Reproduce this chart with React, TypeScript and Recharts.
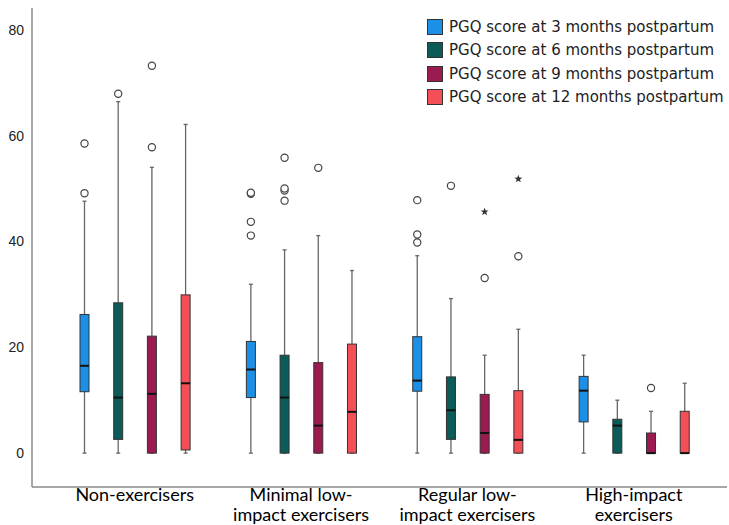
import React from "react";
import { ComposedChart, Bar, XAxis, YAxis } from "recharts";

// ---------- data ----------
const categories = [
  "Non-exercisers",
  "Minimal low-impact exercisers",
  "Regular low-impact exercisers",
  "High-impact exercisers",
];

const seriesNames = [
  "PGQ score at 3 months postpartum",
  "PGQ score at 6 months postpartum",
  "PGQ score at 9 months postpartum",
  "PGQ score at 12 months postpartum",
];

// rows = series (3, 6, 9, 12 months), columns = categories
const lowerWhisker = [
  [0, 0, 0, 0],
  [0, 0, 0, 0],
  [0, 0, 0, 0],
  [0, 0, 0, 0],
];
const q1 = [
  [11.6, 10.5, 11.7, 5.9],
  [2.6, 0, 2.6, 0],
  [0, 0, 0, 0],
  [0.6, 0, 0, 0],
];
const median = [
  [16.5, 15.8, 13.7, 11.8],
  [10.5, 10.5, 8.1, 5.2],
  [11.2, 5.2, 3.8, 0],
  [13.2, 7.8, 2.5, 0],
];
const q3 = [
  [26.2, 21.1, 22.0, 14.5],
  [28.4, 18.5, 14.4, 6.4],
  [22.1, 17.1, 11.1, 3.8],
  [29.9, 20.6, 11.8, 7.9],
];
const upperWhisker = [
  [47.6, 31.9, 37.3, 18.5],
  [66.4, 38.4, 29.2, 10.0],
  [54.0, 41.1, 18.5, 7.9],
  [62.1, 34.5, 23.4, 13.2],
];
const outliers = [
  [[49.1, 58.5], [41.1, 43.7, 49.0, 49.2], [39.8, 41.3, 47.8], []],
  [[67.9], [47.7, 49.6, 50.0, 55.8], [50.5], []],
  [[57.8, 73.2], [53.9], [33.1], [12.3]],
  [[], [], [37.2], []],
];
const extremes = [
  [[], [], [], []],
  [[], [], [], []],
  [[], [], [45.6], []],
  [[], [], [51.8], []],
];

const yTicks = [0, 20, 40, 60, 80];

// ---------- styles ----------
const seriesColors = ["#1C8FE6", "#0B5B58", "#9B1B50", "#F44E57"];
const tickFont = "'Liberation Sans', Arial, sans-serif";
const catFont = "Lato, 'Open Sans', sans-serif";
const legendFont = "'DejaVu Sans', Verdana, sans-serif";

const data = categories.map((c, ci) => {
  const row: any = { category: c };
  seriesNames.forEach((_, si) => {
    row[`s${si}`] = [lowerWhisker[si][ci], upperWhisker[si][ci]];
    row[`st${si}`] = {
      min: lowerWhisker[si][ci],
      q1: q1[si][ci],
      med: median[si][ci],
      q3: q3[si][ci],
      max: upperWhisker[si][ci],
      out: outliers[si][ci],
      ext: extremes[si][ci],
    };
  });
  return row;
});

function starPoints(cx: number, cy: number, ro: number, ri: number) {
  const pts: string[] = [];
  for (let i = 0; i < 10; i++) {
    const r = i % 2 === 0 ? ro : ri;
    const a = -Math.PI / 2 + (i * Math.PI) / 5;
    pts.push(`${cx + r * Math.cos(a)},${cy + r * Math.sin(a)}`);
  }
  return pts.join(" ");
}

const makeBoxShape = (si: number) => (props: any) => {
  const { x, y, width, height, payload } = props;
  const st = payload[`st${si}`];
  const top = Math.min(y, y + height);
  const h = Math.abs(height);
  const bottom = top + h;
  const k = h / (st.max - st.min);
  const Y = (v: number) => bottom - (v - st.min) * k;
  const cx = x + width / 2;
  const bw = 9;
  const cap = 2;
  const wc = "#666";
  return (
    <g>
      <line x1={cx} x2={cx} y1={Y(st.max)} y2={Y(st.q3)} stroke={wc} strokeWidth={1.3} />
      <line x1={cx} x2={cx} y1={Y(st.q1)} y2={Y(st.min)} stroke={wc} strokeWidth={1.3} />
      <line x1={cx - cap} x2={cx + cap} y1={Y(st.max)} y2={Y(st.max)} stroke={wc} strokeWidth={1.3} />
      <line x1={cx - cap} x2={cx + cap} y1={Y(st.min)} y2={Y(st.min)} stroke={wc} strokeWidth={1.3} />
      <rect
        x={cx - bw / 2}
        y={Y(st.q3)}
        width={bw}
        height={Math.max(Y(st.q1) - Y(st.q3), 0)}
        fill={seriesColors[si]}
        stroke="#333"
        strokeWidth={1}
      />
      <line x1={cx - bw / 2} x2={cx + bw / 2} y1={Y(st.med)} y2={Y(st.med)} stroke="#111" strokeWidth={2} />
      {st.out.map((v: number, i: number) => (
        <circle key={`o${i}`} cx={cx} cy={Y(v)} r={3.6} fill="#fff" stroke="#444" strokeWidth={1.2} />
      ))}
      {st.ext.map((v: number, i: number) => (
        <polygon key={`e${i}`} points={starPoints(cx, Y(v), 4.2, 1.7)} fill="#333" />
      ))}
    </g>
  );
};

function wrapLabel(label: string, maxChars: number) {
  const tokens = label.match(/[^\s-]+-?\s*/g) || [label];
  const lines: string[] = [];
  let cur = "";
  tokens.forEach((t) => {
    if ((cur + t).trim().length > maxChars && cur) {
      lines.push(cur.trim());
      cur = t;
    } else {
      cur += t;
    }
  });
  if (cur.trim()) lines.push(cur.trim());
  return lines;
}

const CategoryTick = (props: any) => {
  const { x, y, payload } = props;
  const lines = wrapLabel(String(payload.value), 17);
  return (
    <text x={x} y={y} textAnchor="middle" fill="#000" fontSize={18} fontFamily={catFont}>
      {lines.map((l, i) => (
        <tspan key={i} x={x} dy={i === 0 ? 6 : 20}>
          {l}
        </tspan>
      ))}
    </text>
  );
};

export default function App() {
  return (
    <div style={{ position: "absolute", left: 0, top: 0, width: 729, height: 525, background: "#fff" }}>
      <ComposedChart
        width={729}
        height={525}
        data={data}
        margin={{ top: 8, right: 2, bottom: 0, left: 0 }}
        barSize={30}
        barGap={3.7}
      >
        <XAxis
          dataKey="category"
          interval={0}
          height={38}
          tickLine={false}
          axisLine={{ stroke: "#8a8a8a", strokeWidth: 1.5 }}
          padding={{ left: 19.5, right: 10 }}
          tick={<CategoryTick />}
        />
        <YAxis
          type="number"
          domain={[-6.4, 84.1]}
          ticks={yTicks}
          allowDataOverflow
          width={32}
          tickLine={false}
          axisLine={{ stroke: "#8a8a8a", strokeWidth: 1.5 }}
          tick={{ fill: "#222", fontSize: 14, fontFamily: tickFont }}
        />
        {seriesNames.map((name, si) => (
          <Bar
            key={name}
            name={name}
            dataKey={`s${si}`}
            fill={seriesColors[si]}
            isAnimationActive={false}
            shape={makeBoxShape(si)}
          />
        ))}
      </ComposedChart>
      <div style={{ position: "absolute", left: 427, top: 15, fontFamily: legendFont, fontSize: 15, color: "#222" }}>
        {seriesNames.map((name, si) => (
          <div key={name} style={{ display: "flex", alignItems: "center", height: 23.5 }}>
            <div
              style={{
                width: 14,
                height: 14,
                background: seriesColors[si],
                border: "1px solid #333",
                marginRight: 6,
              }}
            />
            <span style={{ whiteSpace: "nowrap", lineHeight: "16px" }}>{name}</span>
          </div>
        ))}
      </div>
    </div>
  );
}
